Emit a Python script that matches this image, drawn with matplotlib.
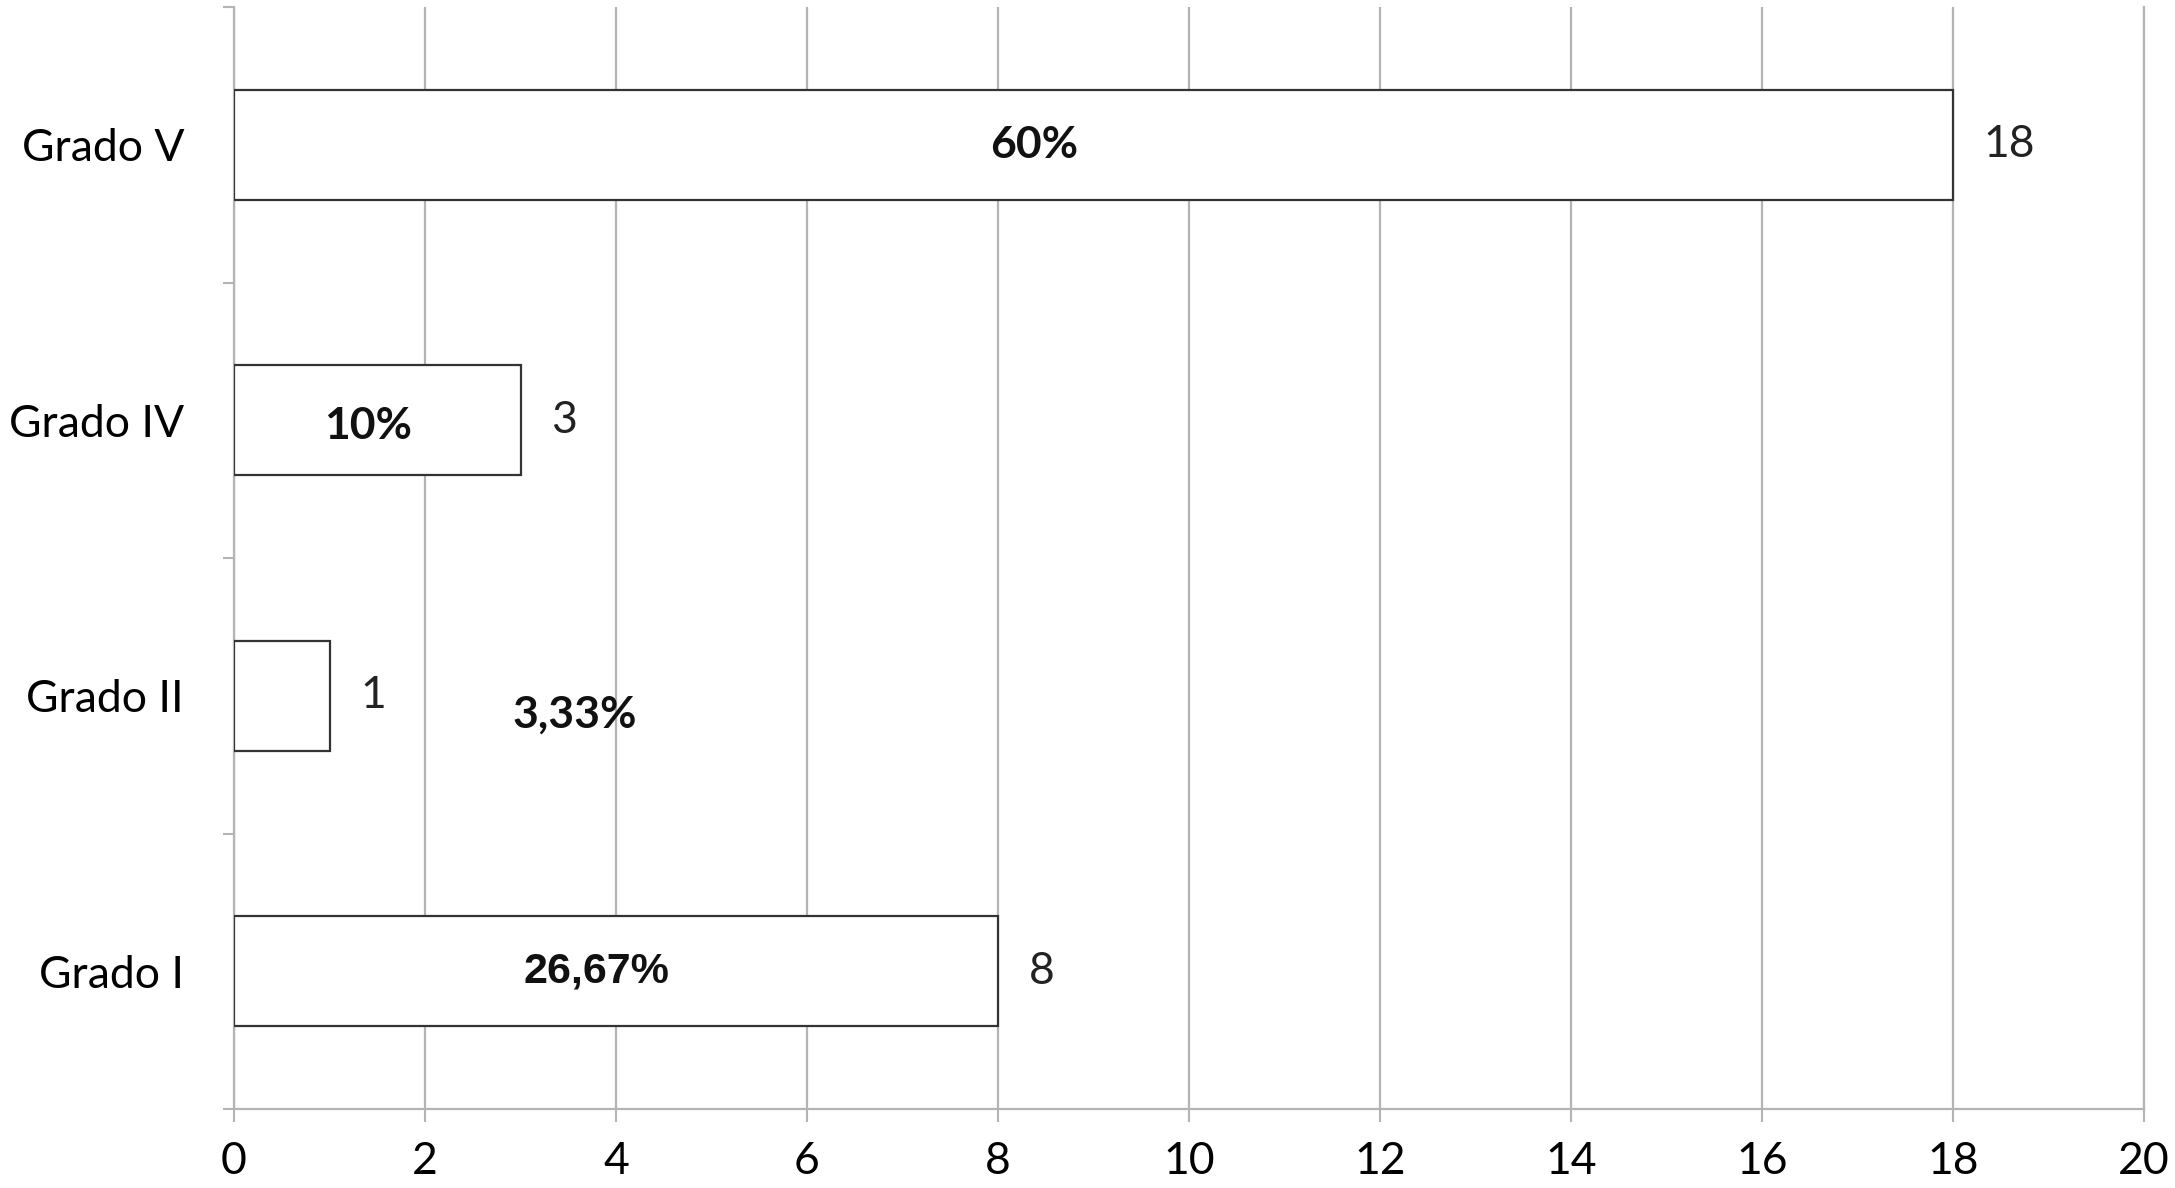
import numpy as np
import matplotlib.pyplot as plt
from matplotlib.ticker import FixedLocator

# datos
categorias = ['Grado I', 'Grado II', 'Grado IV', 'Grado V']
casos = [8, 1, 3, 18]
porcentajes = ['26,67%', '3,33%', '10%', '60%']
xticks = [0, 2, 4, 6, 8, 10, 12, 14, 16, 18, 20]

gris = '#b4b4b4'
borde = '#333333'

fig = plt.figure(figsize=(21.75, 11.88), dpi=100)
ax = fig.add_axes([0.1076, 0.0665, 0.8781, 0.9276])

y = np.arange(len(categorias))
ax.barh(y, casos, height=0.4, color='white', edgecolor=borde, linewidth=1.6, zorder=3)

ax.set_xlim(0, 20)
ax.set_ylim(-0.5, 3.5)
ax.set_xticks(xticks)
ax.set_yticks(y)
ax.set_yticklabels(categorias, family='Lato', fontsize=32)
ax.yaxis.set_minor_locator(FixedLocator(np.arange(-0.5, 4, 1)))
ax.tick_params(axis='y', which='major', length=0, pad=36)
ax.tick_params(axis='y', which='minor', length=8, width=1.5, color=gris)
ax.tick_params(axis='x', length=9, width=1.5, color=gris, pad=14, labelsize=32)
for t in ax.get_xticklabels():
    t.set_family('Lato')

ax.grid(axis='x', color=gris, linewidth=1.6, zorder=0)
for s in ['top']:
    ax.spines[s].set_visible(False)
for s in ['left', 'bottom', 'right']:
    ax.spines[s].set_color(gris)
    ax.spines[s].set_linewidth(1.6)

# numero de casos a la derecha de cada barra
for i, v in enumerate(casos):
    ax.annotate(str(v), xy=(v, i), xytext=(22, 0), textcoords='offset points',
                ha='left', va='center', fontsize=32, family='Lato', color='#222222')

# porcentajes (posiciones tal como estan en el grafico original)
pos_pct = [(3.8, 0.0), (3.57, 0.93), (1.4, 1.98), (8.38, 3.0)]
for i, (txt, (px, py)) in enumerate(zip(porcentajes, pos_pct)):
    fam = 'Liberation Sans' if i == 0 else 'Lato'
    ax.text(px, py, txt, ha='center', va='center', fontsize=31 if i == 0 else 32,
            fontweight='bold', family=fam, color='#111111', zorder=4)

fig.savefig('out.png', dpi=100)
